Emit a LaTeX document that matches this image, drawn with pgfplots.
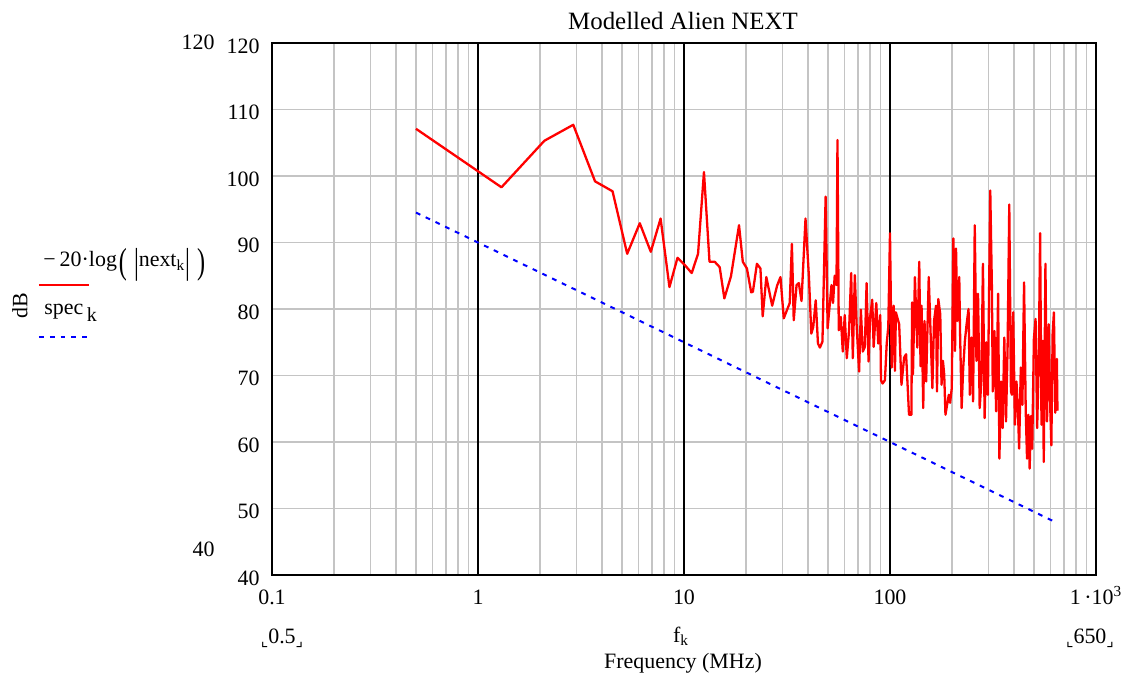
\documentclass[border=0pt]{standalone}
\usepackage{fontspec}
\setmainfont{Liberation Serif}
\newfontfamily\djv{DejaVu Sans}
\usepackage{pgfplots}
\pgfplotsset{compat=1.18}
\definecolor{gridgray}{RGB}{196,196,196}
\newcommand{\bigp}[1]{\raisebox{-0.3em}{\scalebox{1.1}[1.65]{#1}}}
\newcommand{\crn}[1]{\raisebox{-0.15em}{\djv\fontsize{8}{8}\selectfont #1}}

\begin{document}
\begin{tikzpicture}[font=\fontsize{11}{13}\selectfont]
\path (-136bp,-52bp) rectangle (425.5bp,287.5bp);
\begin{axis}[
    at={(0,0)}, anchor=south west,
    scale only axis,
    width=412bp, height=266bp,
    xmode=log,
    xmin=0.1, xmax=1000,
    ymin=40, ymax=120,
    xtick={0.1,1,10,100,1000},
    xticklabels={0.1,1,10,100,{1\,·10\textsuperscript{3}}},
    minor xtick={0.2,0.3,0.4,0.5,0.6,0.7,0.8,0.9,2,3,4,5,6,7,8,9,20,30,40,50,60,70,80,90,200,300,400,500,600,700,800,900},
    ytick={40,50,60,70,80,90,100,110,120},
    yticklabels={40,50,60,70,80,90,100,110,120},
    xminorgrids=true,
    ymajorgrids=true,
    minor grid style={gridgray, line width=0.7bp},
    major grid style={gridgray, line width=0.7bp},
    extra x ticks={1,10,100},
    extra x tick labels={},
    extra x tick style={grid=major, major grid style={black, line width=1bp}},
    major tick length=0pt, minor tick length=0pt,
    axis line style={black, line width=1bp},
    yticklabel style={anchor=east, inner sep=0pt, xshift=-6bp, yshift=-1.5bp},
    xticklabel style={anchor=base, inner sep=0pt, yshift=-14.5bp},
]
% -20 log|next_k|
\addplot[red, line width=1.15bp, line join=round] coordinates {
(0.5,107.1) (1.3,98.3) (2.1,105.3) (2.9,107.7) (3.7,99.2) (4.5,97.7) (5.3,88.3) (6.1,92.9)
(6.9,88.6) (7.7,93.6) (8.5,83.3) (9.3,87.7) (10.1,86.6) (10.9,85.4) (11.7,88.3) (12.5,100.6)
(13.3,87.1) (14.1,87.1) (14.9,86.3) (15.7,81.6) (16.9,84.9) (18.5,92.6) (19.3,87.1) (20.2,86.1)
(21.2,82.5) (21.6,82.6) (22.6,86.8) (23.5,86.1) (24.1,78.9) (25.1,84.8) (26.8,80.5) (28.3,83.5)
(29.4,84.8) (30.5,78.6) (32.6,80.9) (33.4,89.8) (34.1,78.3) (35.2,83.6) (36.1,83.9) (37.2,81.2)
(38.9,93.6) (40.4,84.9) (41.5,76.3) (42.4,77.3) (43.6,81.3) (44.7,74.8) (45.7,74.2) (47.0,75.1)
(48.7,96.9) (49.8,77.1) (52.0,83.6) (52.9,80.9) (53.9,85.0) (55.0,83.6) (55.6,105.4) (56.4,76.8)
(57.7,78.8) (59.0,73.6) (60.3,79.1) (61.7,72.6) (63.3,76.8) (64.8,85.4) (66.0,72.6) (67.5,85.1)
(68.8,77.9) (70.8,70.6) (72.2,79.9) (73.8,73.6) (75.5,74.3) (77.0,83.9) (78.7,72.1) (80.1,78.8)
(82.0,81.4) (83.3,74.3) (85.8,80.9) (87.7,74.8) (89.7,79.1) (90.4,69.3) (92.1,68.8) (94.5,69.3)
(96.4,74.8) (98.1,77.3) (100,91.4) (101.9,71.2) (104.2,80.5) (105.7,70.7) (106.8,79.5) (110.8,77.7)
(113.7,68.6) (117.1,72.7) (119.7,73.2) (121.5,69.1) (123.7,64.1) (127.0,64.1) (128.1,81.0) (129.3,70.2)
(132.1,84.8) (135.7,74.2) (138.7,87.1) (140.7,71.4) (142.3,80.5) (145.0,65.1) (147.1,78.2) (149.8,69.1)
(154.2,84.8) (157.1,77.2) (160.6,68.1) (163.6,78.2) (167.3,80.5) (169.1,67.6) (171.6,81.5) (175.4,79.2)
(177.9,68.6) (180.7,72.2) (183.3,70.2) (185.9,64.1) (190.0,65.9) (193.0,67.1) (195.8,65.9) (199.5,68.1)
(203.1,90.6) (206.9,73.7) (209.2,89.1) (212.2,78.2) (216.9,84.8) (218.6,77.2) (222.7,65.1) (226.7,71.2)
(231.0,75.2) (235.4,77.7) (240.6,80.0) (244.1,67.1) (248.7,75.7) (253.1,66.1) (257.9,92.6) (262.8,72.2)
(267.5,82.3) (272.5,65.1) (277.7,69.1) (282.6,86.8) (288.0,63.6) (293.5,75.0) (298.7,67.1) (306.7,97.8)
(312.2,83.8) (315.5,67.6) (321.5,76.7) (327.6,64.6) (334.9,82.3) (339.7,57.5) (346.1,69.1) (352.3,62.1)
(358.9,75.7) (365.8,63.1) (372.3,74.2) (379.4,95.7) (386.5,67.6) (390.8,67.1) (396.4,79.5) (403.9,62.6)
(411.1,69.1) (417.5,65.1) (423.5,59.0) (431.5,71.2) (439.2,65.6) (447.5,84.0) (456.0,64.6) (462.6,57.5)
(469.3,64.1) (476.4,56.0) (483.3,63.9) (490.2,59.0) (499.5,75.5) (508.9,78.5) (518.1,62.1) (527.8,72.9)
(535.4,91.4) (543.8,62.6) (551.6,75.2) (557.7,57.0) (568.3,86.8) (578.4,63.1) (589.3,77.7) (600.4,64.6)
(607.1,59.5) (615.8,76.2) (624.7,79.5) (634.5,64.4) (645.7,72.5) (650,64.7)
};
% spec_k
\addplot[blue, line width=1bp, dash pattern=on 2.4bp off 3bp] coordinates {
(0.5,94.5) (1,90) (10,75) (100,60) (650,47.8)
};
\end{axis}
\node[anchor=base, font=\fontsize{12.5}{14}\selectfont] at (205.5bp,272.5bp) {Modelled Alien NEXT};
\node[anchor=east, inner sep=0pt] at (-28.5bp,266.5bp) {120};
\node[anchor=east, inner sep=0pt] at (-28.5bp,13bp) {40};
\node[anchor=base, inner sep=0pt] at (5bp,-34bp) {\crn{⌞}0.5\crn{⌟}};
\node[anchor=base, inner sep=0pt] at (204.5bp,-33.5bp) {f\textsubscript{k}};
\node[anchor=base, inner sep=0pt] at (409bp,-34bp) {\crn{⌞}650\crn{⌟}};
\node[anchor=base, inner sep=0pt] at (205.5bp,-46.5bp) {Frequency (MHz)};
\node[rotate=90, inner sep=0pt] at (-126bp,134.5bp) {dB};
\node[anchor=base west, inner sep=0pt, font=\fontsize{11}{13}\selectfont] at (-114.5bp,154bp)
  {−\kern2bp 20·log\kern1bp\bigp{(}\kern3.5bp\bigp{|}next\textsubscript{k}\bigp{|}\kern3.5bp\bigp{)}};
\draw[red, line width=1bp] (-116.5bp,145bp) -- (-91.5bp,145bp);
\node[anchor=base west, inner sep=0pt, font=\fontsize{11}{13}\selectfont] at (-114bp,130bp) {spec\,\textsubscript{\fontsize{10}{10}\selectfont k}};
\draw[blue, line width=1bp, dash pattern=on 2.4bp off 3bp] (-116.5bp,119bp) -- (-92bp,119bp);
\end{tikzpicture}
\end{document}
